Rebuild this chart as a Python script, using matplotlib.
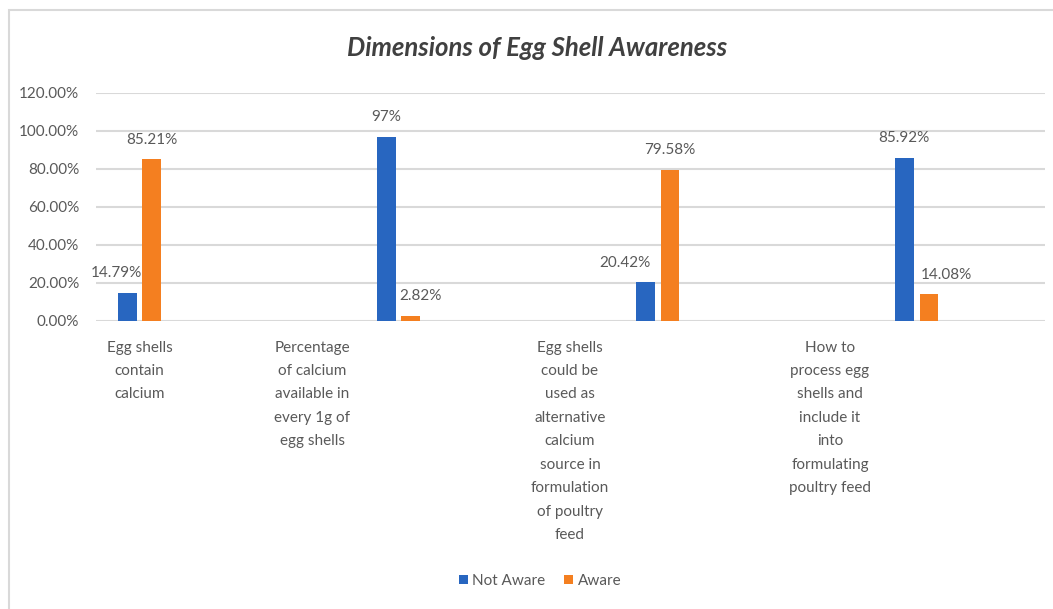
import matplotlib.pyplot as plt
import matplotlib.patches as mpatches
import numpy as np

plt.rcParams['font.family'] = ['Lato', 'DejaVu Sans']

categories = [
    "Egg shells\ncontain\ncalcium",
    "Percentage\nof calcium\navailable in\nevery 1g of\negg shells",
    "Egg shells\ncould be\nused as\nalternative\ncalcium\nsource in\nformulation\nof poultry\nfeed",
    "How to\nprocess egg\nshells and\ninclude it\ninto\nformulating\npoultry feed",
]
not_aware = [14.79, 97, 20.42, 85.92]
aware = [85.21, 2.82, 79.58, 14.08]
yticks = [0, 20, 40, 60, 80, 100, 120]

# layout
label_pos = [0.0, 0.666, 1.662, 2.666]          # where each category text sits
not_aware_dx = [-11, 0, -20, 0]                  # value label nudges (px)
aware_dx = [0, 10, 0, 17]

blue = '#2866C0'
orange = '#F47F20'
txt = '#595959'

fig = plt.figure(figsize=(10.53, 6.09), dpi=100)
ax = fig.add_axes([96/1053, 1-321/609, (1045-96)/1053, (321-93)/609])

x = np.arange(len(categories))
w = 0.073
off = 0.048
b1 = ax.bar(x - off, not_aware, w, color=blue, label='Not Aware', zorder=3)
b2 = ax.bar(x + off, aware, w, color=orange, label='Aware', zorder=3)

for bars, vals, dxs in ((b1, not_aware, not_aware_dx), (b2, aware, aware_dx)):
    for bar, v, dx in zip(bars, vals, dxs):
        ax.annotate('%g%%' % v, (bar.get_x() + bar.get_width()/2, v),
                    xytext=(dx*0.72, 14), textcoords='offset points',
                    ha='center', va='center', fontsize=11, color=txt)

ax.set_xlim(-0.168, 3.496)
ax.set_ylim(0, 120)
ax.set_yticks(yticks)
ax.set_yticklabels(['%.2f%%' % t for t in yticks])
ax.tick_params(axis='y', length=0, pad=12, labelsize=11, labelcolor=txt)
ax.set_xticks([])
ax.grid(axis='y', color='#D9D9D9', linewidth=1.5, zorder=0)
for s in ax.spines.values():
    s.set_visible(False)

for pos, lab in zip(label_pos, categories):
    ax.text(pos, -10.3, lab, ha='center', va='top', fontsize=11, color=txt,
            linespacing=1.86)

fig.text(537/1053, 1-48/609, 'Dimensions of Egg Shell Awareness', ha='center',
         va='center', fontsize=18.5, fontweight='bold', fontstyle='italic',
         color='#404040')

fig.legend(handles=[b1, b2], loc='center', bbox_to_anchor=(540/1053, 1-581/609),
           ncol=2, frameon=False, fontsize=11, handlelength=0.6, handleheight=0.6,
           handletextpad=0.3, columnspacing=1.2, labelcolor=txt)

# outer chart border
fig.add_artist(mpatches.Rectangle((9/1053, -0.1), 1.2, 1.1 - 10/609,
                                  transform=fig.transFigure, fill=False,
                                  edgecolor='#D9D9D9', linewidth=1.5))

fig.savefig('out.png', dpi=100)
